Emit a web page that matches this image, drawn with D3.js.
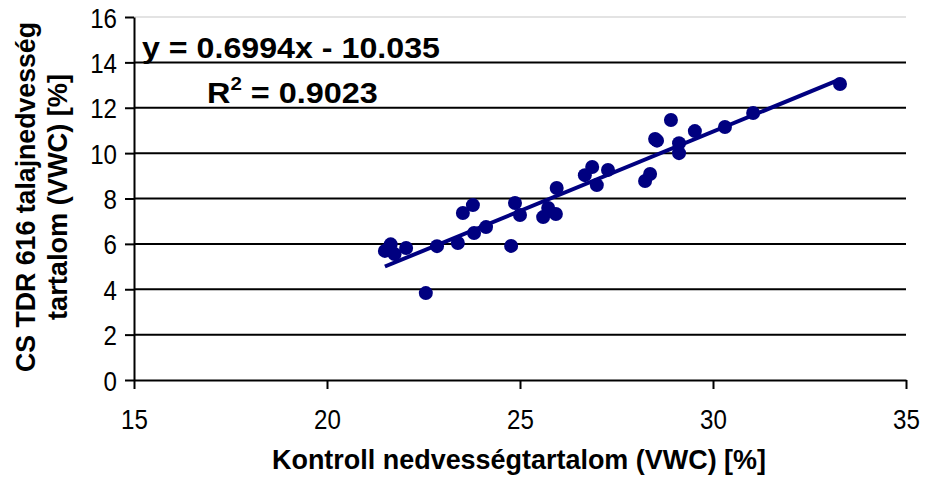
<!DOCTYPE html>
<html>
<head>
<meta charset="utf-8">
<script src="https://cdn.jsdelivr.net/npm/d3@7"></script>
<style>
  html, body { margin: 0; padding: 0; background: #fff; }
  svg { display: block; }
  text { font-family: "Liberation Sans", Arial, sans-serif; fill: #000; }
</style>
</head>
<body>
<svg id="chart" width="926" height="477"></svg>
<script>
// Measured soil moisture: control (x) vs. CS TDR 616 probe (y), VWC %
const controlVWC = [21.50, 21.65, 21.75, 21.60, 22.05, 22.85, 22.56, 23.39, 23.81, 24.12,
                    23.52, 23.78, 24.87, 25.00, 24.77, 25.60, 25.73, 25.93, 25.95, 26.68,
                    26.87, 26.99, 27.28, 28.24, 28.37, 28.50, 28.55, 28.91, 29.12, 29.12,
                    29.53, 30.31, 31.04, 33.29];
const tdrVWC     = [5.69, 5.98, 5.55, 5.75, 5.82, 5.90, 3.83, 6.04, 6.48, 6.74,
                    7.36, 7.71, 7.80, 7.27, 5.91, 7.18, 7.58, 7.32, 8.46, 9.03,
                    9.39, 8.59, 9.26, 8.77, 9.08, 10.62, 10.55, 11.46, 10.44, 10.00,
                    10.97, 11.15, 11.77, 13.05];

// Linear trend line
const slope = 0.6994;
const intercept = -10.035;
const rSquared = 0.9023;

const xTicks = [15, 20, 25, 30, 35];
const yTicks = [0, 2, 4, 6, 8, 10, 12, 14, 16];

const xTitle = "Kontroll nedvességtartalom (VWC) [%]";
const yTitleLines = ["CS TDR 616 talajnedvesség", "tartalom (VWC) [%]"];

const svg = d3.select("#chart");
const plotLeft = 134, plotRight = 906, plotTop = 17, plotBottom = 380;

const x = d3.scaleLinear().domain([15, 35]).range([plotLeft, plotRight]);
const y = d3.scaleLinear().domain([0, 16]).range([plotBottom, plotTop]);

const navy = "#000080";
const fontStack = "'Liberation Sans', Arial, sans-serif";

// Tick labels use a slightly tall, narrow look
function styleTickText(sel) {
  sel.style("font-family", fontStack).style("font-size", "28px")
    .each(function () {
      const w = this.getComputedTextLength();
      d3.select(this).attr("textLength", w * 0.86).attr("lengthAdjust", "spacingAndGlyphs");
    });
}

// Horizontal gridlines
svg.append("g").selectAll("line")
  .data(yTicks.filter(d => d > 0))
  .join("line")
  .attr("x1", plotLeft).attr("x2", plotRight)
  .attr("y1", d => y(d)).attr("y2", d => y(d))
  .attr("stroke", d => d === 16 ? "#c8c8c8" : "#000")
  .attr("stroke-width", d => d === 16 ? 1.2 : 2);

// Y axis
const yAxis = svg.append("g")
  .attr("transform", `translate(${plotLeft},0)`)
  .call(d3.axisLeft(y).tickValues(yTicks).tickSize(9).tickSizeOuter(0).tickPadding(8));
yAxis.select(".domain").attr("stroke", "#000").attr("stroke-width", 2);
yAxis.selectAll(".tick line").attr("stroke", "#000").attr("stroke-width", 2);
yAxis.selectAll(".tick text").attr("dy", "0.36em").call(styleTickText);

// X axis
const xAxis = svg.append("g")
  .attr("transform", `translate(0,${plotBottom})`)
  .call(d3.axisBottom(x).tickValues(xTicks).tickSize(9).tickSizeOuter(0).tickPadding(20));
xAxis.select(".domain").attr("stroke", "#000").attr("stroke-width", 2);
xAxis.selectAll(".tick line").attr("stroke", "#000").attr("stroke-width", 2);
xAxis.selectAll(".tick text").call(styleTickText);

// Data points
svg.append("g").selectAll("circle")
  .data(controlVWC.map((v, i) => [v, tdrVWC[i]]))
  .join("circle")
  .attr("cx", d => x(d[0]))
  .attr("cy", d => y(d[1]))
  .attr("r", 7)
  .attr("fill", navy);

// Trend line across the data range
const [xMin, xMax] = d3.extent(controlVWC);
svg.append("line")
  .attr("x1", x(xMin)).attr("y1", y(slope * xMin + intercept))
  .attr("x2", x(xMax)).attr("y2", y(slope * xMax + intercept))
  .attr("stroke", navy)
  .attr("stroke-width", 4);

// Squeeze a text group horizontally to a given width, keeping its left edge
function fitWidth(g, width) {
  const w = g.node().getBBox().width;
  const tx = g.attr("data-x"), ty = g.attr("data-y");
  g.attr("transform", `translate(${tx},${ty}) scale(${width / w},1)`);
}

// Regression equation and R²
const eq = svg.append("g").attr("data-x", 142).attr("data-y", 58);
eq.append("text")
  .attr("font-size", 30).attr("font-weight", "bold")
  .text(`y = ${slope}x - ${Math.abs(intercept).toFixed(3)}`);
fitWidth(eq, 298);

const r2g = svg.append("g").attr("data-x", 207).attr("data-y", 103);
const r2 = r2g.append("text").attr("font-size", 30).attr("font-weight", "bold");
r2.append("tspan").text("R");
r2.append("tspan").attr("dy", -13).attr("font-size", 19).text("2");
r2.append("tspan").attr("dy", 13).text(` = ${rSquared}`);
fitWidth(r2g, 171);

// Axis titles
svg.append("text")
  .attr("x", 519).attr("y", 469)
  .attr("text-anchor", "middle")
  .attr("font-size", 27).attr("font-weight", "bold")
  .attr("textLength", 494).attr("lengthAdjust", "spacingAndGlyphs")
  .text(xTitle);

const yTitle = svg.append("g").attr("transform", "translate(0,197) rotate(-90)");
yTitle.append("text")
  .attr("x", 0).attr("y", 35)
  .attr("text-anchor", "middle")
  .attr("font-size", 28).attr("font-weight", "bold")
  .attr("textLength", 350).attr("lengthAdjust", "spacingAndGlyphs")
  .text(yTitleLines[0]);
yTitle.append("text")
  .attr("x", 0).attr("y", 67)
  .attr("text-anchor", "middle")
  .attr("font-size", 28).attr("font-weight", "bold")
  .attr("textLength", 246).attr("lengthAdjust", "spacingAndGlyphs")
  .text(yTitleLines[1]);
</script>
</body>
</html>
